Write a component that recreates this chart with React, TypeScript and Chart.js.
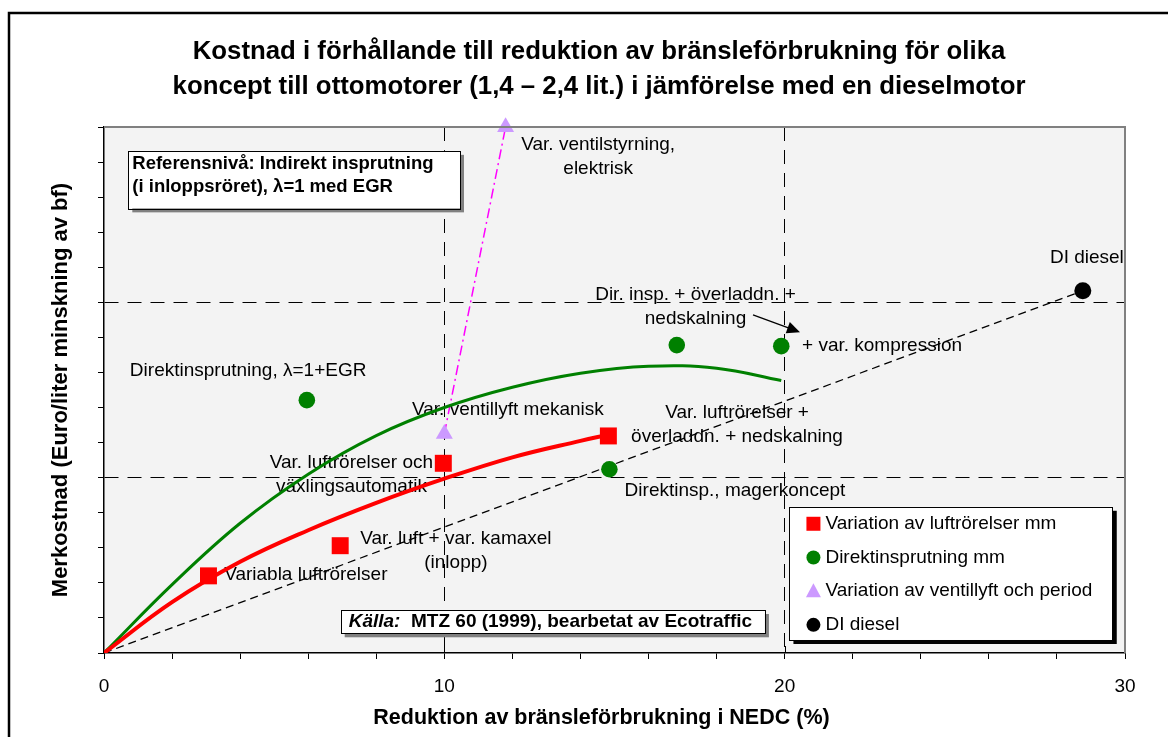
import React, { useEffect, useRef } from 'react';
import { Chart, registerables } from 'chart.js';

Chart.register(...registerables);

const FONT = '"Liberation Sans", Arial, Helvetica, sans-serif';

// ---- texts ----
const titleLines = [
  'Kostnad i förhållande till reduktion av bränsleförbrukning för olika',
  'koncept till ottomotorer (1,4 – 2,4 lit.) i jämförelse med en dieselmotor',
];
const xAxisTitle = 'Reduktion av bränsleförbrukning i NEDC (%)';
const yAxisTitle = 'Merkostnad (Euro/liter minskning av bf)';
const xTickLabels = [0, 10, 20, 30];
const seriesNames = [
  'Variation av luftrörelser mm',
  'Direktinsprutning mm',
  'Variation av ventillyft och period',
  'DI diesel',
];

// ---- data (x = % reduction, y = cost, unlabeled units) ----
const luftX = [3.07, 6.94, 9.97, 14.82];
const luftY = [2.2, 3.06, 5.41, 6.19];
const direktX = [5.96, 14.85, 16.83, 19.9];
const direktY = [7.21, 5.24, 8.78, 8.75];
const ventilX = [10.0, 11.8];
const ventilY = [6.25, 15.0];
const dieselX = [28.76];
const dieselY = [10.33];

const luftTrendX = [0, 2, 4, 6, 8, 10, 12, 14, 14.8];
const luftTrendY = [0, 1.45, 2.6, 3.5, 4.28, 4.97, 5.58, 6.05, 6.22];
const direktTrendX = [0, 2, 4, 6, 8, 10, 12, 14, 16, 18, 19.9];
const direktTrendY = [0, 1.95, 3.7, 5.1, 6.2, 7.0, 7.58, 7.98, 8.18, 8.12, 7.77];

// ---- annotation labels (data coordinates) ----
const annotations = [
  { lines: ['Var. ventilstyrning,', 'elektrisk'], x: 14.52, y: 14.49, align: 'center' },
  { lines: ['DI diesel'], x: 28.88, y: 11.26, align: 'center' },
  { lines: ['Dir. insp. + överladdn. +', 'nedskalning'], x: 17.38, y: 10.21, align: 'center' },
  { lines: ['+ var. kompression'], x: 20.51, y: 8.75, align: 'left' },
  { lines: ['Direktinsprutning, λ=1+EGR'], x: 0.76, y: 8.04, align: 'left' },
  { lines: ['Var. ventillyft mekanisk'], x: 9.05, y: 6.93, align: 'left' },
  { lines: ['Var. luftrörelser +', 'överladdn. + nedskalning'], x: 18.6, y: 6.84, align: 'center' },
  { lines: ['Var. luftrörelser och', 'växlingsautomatik'], x: 7.27, y: 5.42, align: 'center' },
  { lines: ['Direktinsp., magerkoncept'], x: 18.54, y: 4.62, align: 'center' },
  { lines: ['Var. luft + var. kamaxel', '(inlopp)'], x: 10.34, y: 3.25, align: 'center' },
  { lines: ['Variabla luftrörelser'], x: 3.53, y: 2.22, align: 'left' },
];
const arrowFrom = { x: 19.07, y: 9.64 };
const arrowTo = { x: 20.45, y: 9.15 };

const refBox = { x1: 0.714, x2: 10.46, y1: 14.32, y2: 12.68 };
const refLines = ['Referensnivå: Indirekt insprutning', '(i inloppsröret), λ=1 med EGR'];
const srcBox = { x1: 6.955, x2: 19.42, y1: 1.226, y2: 0.562 };
const srcItalic = 'Källa:';
const srcRest = '  MTZ 60 (1999), bearbetat av Ecotraffic';
const legendBox = { x1: 20.14, x2: 29.64, y1: 4.17, y2: 0.371 };

const pts = (xs: number[], ys: number[]) => xs.map((x, i) => ({ x, y: ys[i] }));

const decorPlugin = {
  id: 'decor',
  beforeDraw(chart: any) {
    const { ctx, chartArea: a, width, height } = chart;
    ctx.save();
    ctx.fillStyle = '#ffffff';
    ctx.fillRect(0, 0, width, height);
    ctx.fillStyle = '#f3f3f3';
    ctx.fillRect(a.left, a.top, a.right - a.left, a.bottom - a.top);
    ctx.strokeStyle = '#000';
    ctx.lineWidth = 2.5;
    ctx.beginPath();
    ctx.moveTo(9, height + 5);
    ctx.lineTo(9, 13);
    ctx.lineTo(width + 5, 13);
    ctx.stroke();
    ctx.fillStyle = '#000';
    ctx.font = `bold 25.8px ${FONT}`;
    ctx.textAlign = 'center';
    ctx.textBaseline = 'middle';
    titleLines.forEach((t, i) => ctx.fillText(t, 599, 52 + i * 35));
    ctx.font = `bold 21.5px ${FONT}`;
    ctx.fillText(xAxisTitle, 601.5, 718);
    ctx.restore();
  },
  beforeDatasetsDraw(chart: any) {
    const { ctx } = chart;
    const sx = chart.scales.x, sy = chart.scales.y;
    ctx.save();
    ctx.fillStyle = '#000';
    ctx.font = `19px ${FONT}`;
    ctx.textBaseline = 'middle';
    annotations.forEach((an) => {
      ctx.textAlign = an.align;
      const px = sx.getPixelForValue(an.x);
      const py = sy.getPixelForValue(an.y);
      an.lines.forEach((l, i) => ctx.fillText(l, px, py + i * 24));
    });
    // arrow
    const x1 = sx.getPixelForValue(arrowFrom.x), y1 = sy.getPixelForValue(arrowFrom.y);
    const x2 = sx.getPixelForValue(arrowTo.x), y2 = sy.getPixelForValue(arrowTo.y);
    const ang = Math.atan2(y2 - y1, x2 - x1);
    ctx.strokeStyle = '#000';
    ctx.lineWidth = 1.3;
    ctx.beginPath();
    ctx.moveTo(x1, y1);
    ctx.lineTo(x2 - Math.cos(ang) * 8, y2 - Math.sin(ang) * 8);
    ctx.stroke();
    ctx.beginPath();
    ctx.moveTo(x2, y2);
    ctx.lineTo(x2 - Math.cos(ang) * 13 + Math.sin(ang) * 6, y2 - Math.sin(ang) * 13 - Math.cos(ang) * 6);
    ctx.lineTo(x2 - Math.cos(ang) * 13 - Math.sin(ang) * 6, y2 - Math.sin(ang) * 13 + Math.cos(ang) * 6);
    ctx.closePath();
    ctx.fill();
    ctx.restore();
  },
  afterDatasetsDraw(chart: any) {
    const { ctx } = chart;
    const sx = chart.scales.x, sy = chart.scales.y;
    const box = (b: any, shadow: string) => {
      const l = sx.getPixelForValue(b.x1), r = sx.getPixelForValue(b.x2);
      const t = sy.getPixelForValue(b.y1), bt = sy.getPixelForValue(b.y2);
      ctx.fillStyle = shadow;
      ctx.fillRect(l + 4, t + 4, r - l, bt - t);
      ctx.fillStyle = '#fff';
      ctx.fillRect(l, t, r - l, bt - t);
      ctx.strokeStyle = '#000';
      ctx.lineWidth = 1;
      ctx.strokeRect(Math.round(l) + 0.5, Math.round(t) + 0.5, Math.round(r - l), Math.round(bt - t));
      return { l, r, t, b: bt };
    };
    ctx.save();
    // reference box
    const rb = box(refBox, '#808080');
    ctx.fillStyle = '#000';
    ctx.font = `bold 18.5px ${FONT}`;
    ctx.textAlign = 'left';
    ctx.textBaseline = 'middle';
    refLines.forEach((l, i) => ctx.fillText(l, rb.l + 4, rb.t + 13 + i * 23));
    // source box
    const sb = box(srcBox, '#808080');
    ctx.fillStyle = '#000';
    ctx.font = `italic bold 19px ${FONT}`;
    const cy = (sb.t + sb.b) / 2;
    ctx.fillText(srcItalic, sb.l + 8, cy);
    const w = ctx.measureText(srcItalic).width;
    ctx.font = `bold 19px ${FONT}`;
    ctx.fillText(srcRest, sb.l + 8 + w, cy);
    // legend
    const lb = box(legendBox, '#000');
    const metas = chart.data.datasets.slice(0, 4);
    metas.forEach((ds: any, i: number) => {
      const yy = lb.t + 17 + i * 33.7;
      const mx = lb.l + 24;
      ctx.fillStyle = ds.backgroundColor;
      ctx.beginPath();
      if (ds.pointStyle === 'rect') {
        ctx.rect(mx - 7, yy - 7, 14, 14);
      } else if (ds.pointStyle === 'triangle') {
        ctx.moveTo(mx, yy - 8);
        ctx.lineTo(mx + 7.5, yy + 6);
        ctx.lineTo(mx - 7.5, yy + 6);
        ctx.closePath();
      } else {
        ctx.arc(mx, yy, 7, 0, Math.PI * 2);
      }
      ctx.fill();
      ctx.fillStyle = '#000';
      ctx.font = `19px ${FONT}`;
      ctx.fillText(ds.label, lb.l + 36, yy);
    });
    ctx.restore();
  },
  afterDraw(chart: any) {
    const { ctx, chartArea: a } = chart;
    const sx = chart.scales.x;
    ctx.save();
    ctx.strokeStyle = '#808080';
    ctx.lineWidth = 2;
    ctx.beginPath();
    ctx.moveTo(a.left, a.top);
    ctx.lineTo(a.right, a.top);
    ctx.lineTo(a.right, a.bottom);
    ctx.stroke();
    ctx.strokeStyle = '#000';
    ctx.lineWidth = 1;
    [10, 20].forEach((v) => {
      const px = Math.round(sx.getPixelForValue(v)) + 0.5;
      ctx.beginPath();
      ctx.moveTo(px, a.bottom);
      ctx.lineTo(px, a.bottom - 7);
      ctx.stroke();
    });
    ctx.restore();
  },
};

export default function App() {
  const ref = useRef<HTMLCanvasElement | null>(null);
  useEffect(() => {
    if (!ref.current) return;
    const gridColor = (vals: number[]) => (c: any) =>
      c.tick && vals.includes(c.tick.value) ? '#000' : 'rgba(0,0,0,0)';
    const chart = new Chart(ref.current, {
      type: 'scatter',
      data: {
        datasets: [
          { label: seriesNames[0], data: pts(luftX, luftY), pointStyle: 'rect', pointRadius: 12, backgroundColor: '#ff0000', borderColor: '#ff0000', borderWidth: 0, showLine: false, clip: false, order: 1 },
          { label: seriesNames[1], data: pts(direktX, direktY), pointStyle: 'circle', pointRadius: 8.3, backgroundColor: '#008000', borderColor: '#008000', borderWidth: 0, showLine: false, clip: false, order: 1 },
          { label: seriesNames[2], data: pts(ventilX, ventilY), pointStyle: 'triangle', pointRadius: 9.8, backgroundColor: '#cc99ff', borderColor: '#cc99ff', borderWidth: 0, showLine: false, clip: false, order: 1 },
          { label: seriesNames[3], data: pts(dieselX, dieselY), pointStyle: 'circle', pointRadius: 8.5, backgroundColor: '#000000', borderColor: '#000000', borderWidth: 0, showLine: false, clip: false, order: 1 },
          { label: 'luftTrend', data: pts(luftTrendX, luftTrendY), showLine: true, pointRadius: 0, borderColor: '#ff0000', borderWidth: 4, tension: 0.4, order: 2 },
          { label: 'direktTrend', data: pts(direktTrendX, direktTrendY), showLine: true, pointRadius: 0, borderColor: '#008000', borderWidth: 3, tension: 0.4, order: 2 },
          { label: 'ventilLine', data: pts(ventilX, ventilY), showLine: true, pointRadius: 0, borderColor: '#ff00ff', borderWidth: 1.5, borderDash: [10, 4, 2, 4], clip: false, order: 2 },
          { label: 'dieselLine', data: [{ x: 0, y: 0 }, { x: dieselX[0], y: dieselY[0] }], showLine: true, pointRadius: 0, borderColor: '#000', borderWidth: 1.3, borderDash: [8, 5], order: 2 },
        ] as any,
      },
      options: {
        animation: false,
        responsive: false,
        events: [],
        layout: { padding: { top: 127, right: 43, left: 0, bottom: 0 } },
        plugins: { legend: { display: false }, title: { display: false }, tooltip: { enabled: false } },
        scales: {
          x: {
            type: 'linear',
            min: 0,
            max: 30,
            ticks: {
              stepSize: 2,
              autoSkip: false,
              maxRotation: 0,
              padding: 16,
              color: '#000',
              font: { family: FONT, size: 19 },
              callback: (v: any) => (xTickLabels.includes(Number(v)) ? String(v) : ''),
            },
            grid: { color: gridColor([10, 20]), tickColor: '#000', tickLength: 6, lineWidth: 1, tickWidth: 1 },
            border: { color: '#000', width: 1.5, dash: [14, 9] },
            title: { display: false, text: xAxisTitle },
            afterFit: (s: any) => { s.height = 84; },
          },
          y: {
            type: 'linear',
            min: 0,
            max: 15,
            ticks: { stepSize: 1, display: false },
            grid: { color: gridColor([5, 10]), tickColor: '#000', tickLength: 6, lineWidth: 1, tickWidth: 1 },
            border: { color: '#000', width: 1.5, dash: [14, 9] },
            title: { display: true, text: yAxisTitle, color: '#000', font: { family: FONT, size: 22, weight: 'bold' }, padding: { top: 48, bottom: 0 } },
            afterFit: (s: any) => { s.width = 104; },
          },
        },
      } as any,
      plugins: [decorPlugin as any],
    });
    return () => chart.destroy();
  }, []);
  return (
    <div style={{ position: 'fixed', left: 0, top: 0, width: 1168, height: 737, background: '#fff' }}>
      <canvas ref={ref} width={1168} height={737} style={{ width: 1168, height: 737, display: 'block' }} />
    </div>
  );
}
